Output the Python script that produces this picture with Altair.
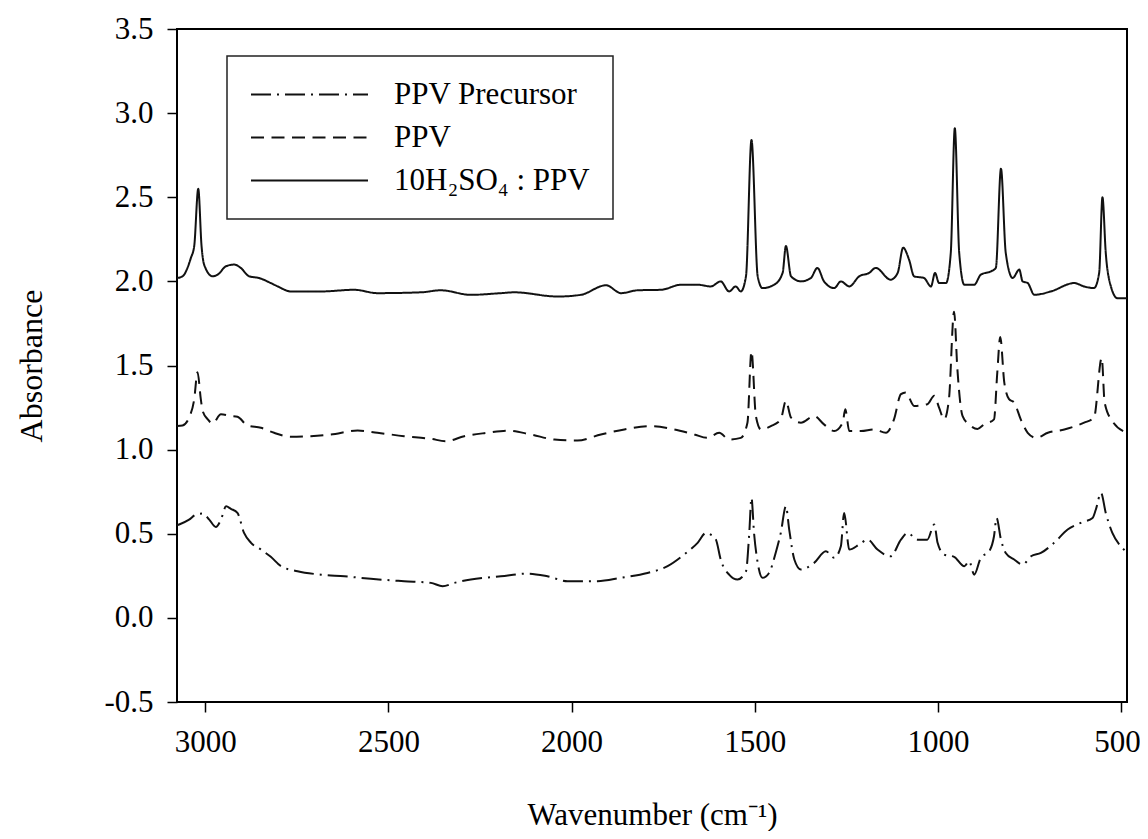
import altair as alt
import pandas as pd

# ---- data ----
series_names = ["PPV Precursor", "PPV", "10H₂SO₄ : PPV"]

acid_wn = [3077, 3062, 3039, 3030, 3019, 3010, 3003, 2980, 2966, 2943, 2921, 2903, 2880, 2853,
           2821, 2802, 2766, 2684, 2593, 2530, 2411, 2357, 2275, 2193, 2157, 2038, 1975, 1906,
           1865, 1820, 1756, 1701, 1656, 1620, 1593, 1570, 1552, 1538, 1524, 1509, 1492, 1479,
           1447, 1424, 1415, 1401, 1374, 1347, 1329, 1311, 1283, 1265, 1242, 1215, 1188, 1170,
           1129, 1110, 1095, 1079, 1065, 1038, 1019, 1008, 997, 978, 965, 954, 942, 928, 901,
           883, 855, 842, 828, 815, 796, 778, 769, 755, 737, 692, 628, 601, 574, 560, 551, 542,
           528, 510, 484]
acid_abs = [2.02, 2.03, 2.14, 2.21, 2.55, 2.21, 2.10, 2.03, 2.04, 2.09, 2.10, 2.08, 2.03, 2.02,
            1.99, 1.97, 1.94, 1.94, 1.95, 1.93, 1.935, 1.947, 1.92, 1.93, 1.935, 1.91, 1.92, 1.977,
            1.93, 1.947, 1.95, 1.98, 1.98, 1.97, 2.00, 1.94, 1.97, 1.94, 2.03, 2.84, 2.03, 1.96,
            1.98, 2.05, 2.21, 2.03, 2.00, 2.02, 2.08, 2.00, 1.96, 2.00, 1.97, 2.03, 2.05, 2.08,
            2.01, 2.05, 2.20, 2.13, 2.03, 2.02, 1.97, 2.05, 1.99, 1.99, 2.17, 2.91, 2.17, 1.98, 1.98,
            2.04, 2.06, 2.08, 2.67, 2.17, 2.02, 2.07, 2.00, 1.99, 1.92, 1.94, 1.99, 1.97, 1.96, 2.05,
            2.50, 2.17, 1.97, 1.90, 1.90]

ppv_wn = [3077, 3062, 3044, 3030, 3021, 3012, 3007, 2993, 2980, 2957, 2930, 2912, 2884, 2848,
          2812, 2766, 2712, 2657, 2584, 2530, 2457, 2384, 2343, 2293, 2230, 2175, 2111, 2047,
          1984, 1920, 1856, 1784, 1720, 1665, 1629, 1597, 1570, 1538, 1520, 1509, 1497, 1483,
          1456, 1429, 1415, 1401, 1374, 1338, 1311, 1283, 1260, 1253, 1242, 1210, 1174, 1142,
          1120, 1101, 1088, 1065, 1029, 1010, 997, 983, 970, 956, 947, 933, 915, 892, 874, 847,
          838, 830, 819, 806, 792, 774, 755, 732, 700, 655, 601, 574, 553, 545, 524, 484]
ppv_abs = [1.14, 1.143, 1.19, 1.30, 1.46, 1.30, 1.23, 1.18, 1.155, 1.21, 1.20, 1.195, 1.143, 1.13,
           1.10, 1.076, 1.08, 1.09, 1.113, 1.10, 1.08, 1.064, 1.05, 1.08, 1.10, 1.113, 1.09, 1.06,
           1.054, 1.09, 1.12, 1.14, 1.12, 1.09, 1.07, 1.10, 1.06, 1.07, 1.16, 1.585, 1.20, 1.12,
           1.14, 1.18, 1.29, 1.19, 1.16, 1.20, 1.15, 1.11, 1.16, 1.24, 1.11, 1.11, 1.12, 1.10,
           1.18, 1.33, 1.34, 1.26, 1.27, 1.32, 1.25, 1.18, 1.30, 1.82, 1.48, 1.20, 1.15, 1.123,
           1.15, 1.18, 1.46, 1.67, 1.40, 1.30, 1.28, 1.18, 1.10, 1.07, 1.10, 1.12, 1.16, 1.19,
           1.545, 1.28, 1.17, 1.10]

prec_wn = [3077, 3071, 3044, 3025, 3007, 2989, 2971, 2957, 2943, 2930, 2912, 2894, 2875, 2848,
           2821, 2793, 2748, 2684, 2620, 2548, 2457, 2384, 2352, 2320, 2275, 2193, 2120, 2066,
           2011, 1929, 1866, 1793, 1738, 1693, 1656, 1633, 1620, 1606, 1593, 1570, 1547, 1524,
           1515, 1509, 1502, 1492, 1479, 1461, 1443, 1429, 1415, 1406, 1392, 1374, 1338, 1306,
           1283, 1265, 1256, 1242, 1215, 1192, 1165, 1129, 1101, 1083, 1056, 1029, 1010, 1001,
           983, 956, 928, 915, 901, 883, 860, 847, 840, 828, 815, 792, 769, 746, 719, 683, 646,
           610, 578, 569, 555, 542, 524, 501, 484]
prec_abs = [0.55, 0.555, 0.584, 0.614, 0.62, 0.584, 0.54, 0.584, 0.663, 0.648, 0.624, 0.505, 0.446,
            0.406, 0.363, 0.307, 0.277, 0.257, 0.247, 0.232, 0.218, 0.208, 0.188, 0.208, 0.228,
            0.247, 0.263, 0.247, 0.218, 0.218, 0.238, 0.267, 0.307, 0.376, 0.446, 0.505, 0.495,
            0.465, 0.347, 0.257, 0.228, 0.277, 0.505, 0.713, 0.505, 0.327, 0.238, 0.267, 0.386,
            0.505, 0.663, 0.525, 0.347, 0.287, 0.327, 0.396, 0.357, 0.426, 0.624, 0.406, 0.436,
            0.465, 0.406, 0.366, 0.465, 0.505, 0.465, 0.465, 0.555, 0.446, 0.376, 0.363, 0.307,
            0.337, 0.257, 0.357, 0.396, 0.485, 0.594, 0.465, 0.386, 0.347, 0.317, 0.366, 0.386,
            0.446, 0.525, 0.565, 0.594, 0.644, 0.743, 0.624, 0.505, 0.426, 0.39]

x_ticks = [3000, 2500, 2000, 1500, 1000, 500]
y_ticks = [-0.5, 0.0, 0.5, 1.0, 1.5, 2.0, 2.5, 3.0, 3.5]

rows = []
for name, wn, ab in [(series_names[0], prec_wn, prec_abs),
                     (series_names[1], ppv_wn, ppv_abs),
                     (series_names[2], acid_wn, acid_abs)]:
    for i, (w, a) in enumerate(zip(wn, ab)):
        rows.append({"series": name, "wn": w, "abs": a, "order": i})
df = pd.DataFrame(rows)

FONT = "Liberation Serif"

chart = alt.Chart(df).mark_line(strokeWidth=2, color="#111111", interpolate="monotone").encode(
    x=alt.X("wn:Q",
            scale=alt.Scale(domain=[484, 3077], reverse=True, nice=False, zero=False),
            axis=alt.Axis(values=x_ticks, format="d", grid=False, tickSize=10, tickWidth=1.5,
                          tickColor="black", domain=False, labelPadding=15,
                          labelFlush=10, labelFlushOffset=19,
                          labelFont=FONT, labelFontSize=31, labelColor="black",
                          title="Wavenumber (cm⁻¹)", titleFont=FONT, titleFontSize=31,
                          titleFontWeight="normal", titleColor="black",
                          titleBaseline="middle", titleY=113)),
    y=alt.Y("abs:Q",
            scale=alt.Scale(domain=[-0.5, 3.5], nice=False, zero=False),
            axis=alt.Axis(values=y_ticks, grid=False, tickSize=10, tickWidth=1.5,
                          labelExpr="datum.value < 0 ? '-' + format(-datum.value, '.1f') : format(datum.value, '.1f')",
                          tickColor="black", domain=False, labelPadding=14,
                          labelFont=FONT, labelFontSize=31, labelColor="black",
                          title="Absorbance", titleFont=FONT, titleFontSize=32,
                          titleFontWeight="normal", titleColor="black",
                          titleBaseline="middle", titleX=-146)),
    strokeDash=alt.StrokeDash("series:N",
                              scale=alt.Scale(domain=series_names,
                                              range=[[20, 6, 2, 6], [13, 7.5], [1, 0]]),
                              legend=alt.Legend(title=None, orient="none", legendX=50, legendY=27,
                                                symbolType="stroke", symbolSize=13689,
                                                symbolStrokeWidth=2, symbolStrokeColor="#111111",
                                                clipHeight=31, labelOffset=25, rowPadding=11,
                                                padding=23, labelFont=FONT, labelFontSize=31,
                                                labelColor="black", labelLimit=400,
                                                fillColor="white", strokeColor="#222222")),
    order="order:Q",
).properties(
    width=950,
    height=673,
    autosize=alt.AutoSizeParams(type="none"),
    padding={"left": 169, "top": 21, "right": 13, "bottom": 129},
).configure_view(
    stroke="black", strokeWidth=2
).configure_legend(
    strokeWidth=1.5
)

chart.save("out.html", embed_options={"renderer": "svg", "actions": False})
